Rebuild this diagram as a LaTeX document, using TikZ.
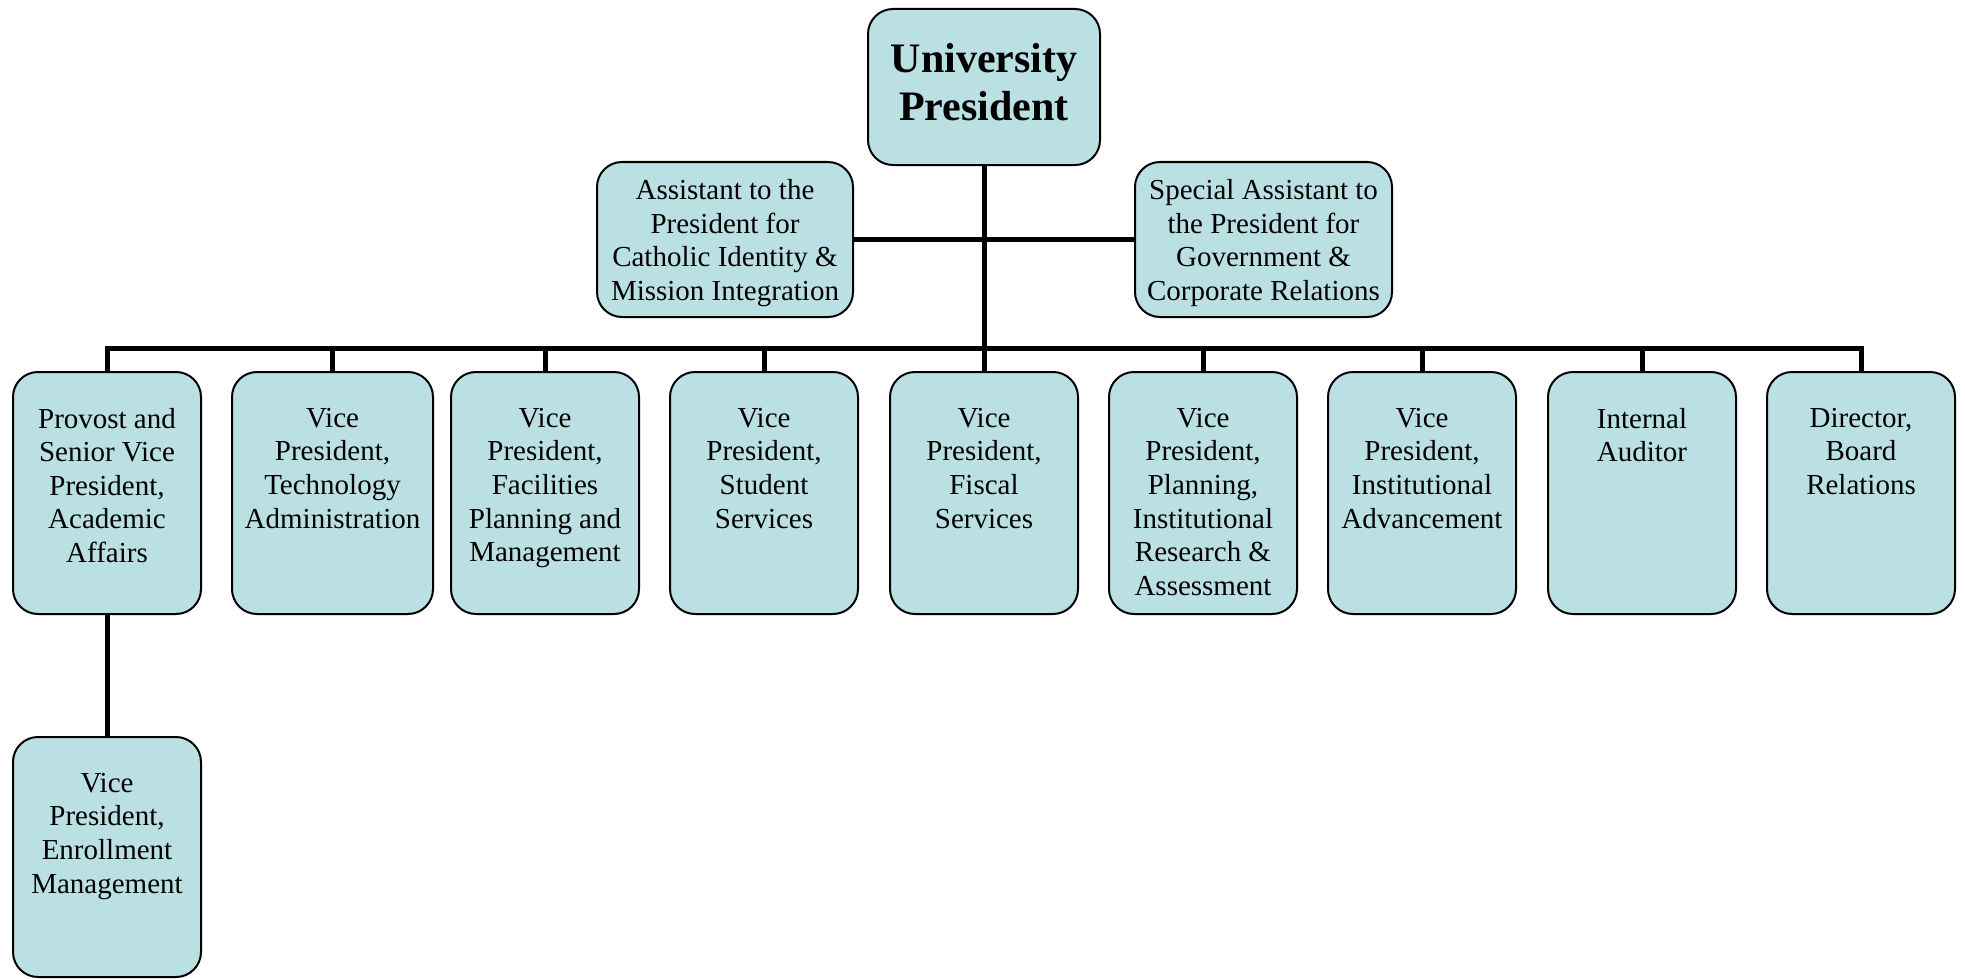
\documentclass[tikz,border=0pt]{standalone}
\usepackage{fontspec}
\setmainfont{Liberation Serif}
\definecolor{boxfill}{RGB}{187,224,227}
\newcommand{\toptext}[3]{\parbox[c][#2][t]{#1}{\centering\vspace*{18pt}#3}}
\newcommand{\midtext}[4]{\parbox[c][#2][c]{#1}{\centering\vspace*{#3}#4}}
\begin{document}
\begin{tikzpicture}[x=0.5pt,y=-0.5pt,
  box/.style={draw=black, line width=1pt, fill=boxfill, rounded corners=12.5pt, inner sep=0pt},
  txt/.style={font=\fontsize{14.5}{16.8}\selectfont},
  conn/.style={line width=2.5pt, line join=miter}]
\useasboundingbox (0,0) rectangle (1965,979);
% top level
\node[box, font=\fontsize{21}{23.8}\selectfont\bfseries] (pres) at (984,87)
  {\midtext{116pt}{78pt}{-5pt}{University\\President}};
\node[box, txt] (asl) at (725,239.5)
  {\midtext{128pt}{77.5pt}{3.5pt}{Assistant to the\\President for\\Catholic Identity \&\\Mission Integration}};
\node[box, txt] (asr) at (1263.5,239.5)
  {\midtext{128.5pt}{77.5pt}{3.5pt}{Special Assistant to\\the President for\\Government \&\\Corporate Relations}};
% second row
\begin{scope}[every node/.style={box, txt}]
\node (b1) at (107,493)   {\toptext{94pt}{121pt}{Provost and\\Senior Vice\\President,\\Academic\\Affairs}};
\node (b2) at (332.5,493) {\toptext{100.5pt}{121pt}{Vice\\President,\\Technology\\Administration}};
\node (b3) at (545,493)   {\toptext{94pt}{121pt}{Vice\\President,\\Facilities\\Planning and\\Management}};
\node (b4) at (764,493)   {\toptext{94pt}{121pt}{Vice\\President,\\Student\\Services}};
\node (b5) at (984,493)   {\toptext{94pt}{121pt}{Vice\\President,\\Fiscal\\Services}};
\node (b6) at (1203,493)  {\toptext{94pt}{121pt}{Vice\\President,\\Planning,\\Institutional\\Research \&\\Assessment}};
\node (b7) at (1422,493)  {\toptext{94pt}{121pt}{Vice\\President,\\Institutional\\Advancement}};
\node (b8) at (1642,493)  {\toptext{94pt}{121pt}{Internal\\Auditor}};
\node (b9) at (1861,493)  {\toptext{94pt}{121pt}{Director,\\Board\\Relations}};
\node (enr) at (107,857)  {\toptext{94pt}{120pt}{Vice\\President,\\Enrollment\\Management}};
\end{scope}
% connectors
\coordinate (bus) at (984,348);
\draw[conn] (pres.south) -- (bus);
\draw[conn] (asl.east) -- (asr.west);
\draw[conn] (b1.north) |- (bus) -| (b9.north);
\foreach \n in {b2,b3,b4,b5,b6,b7,b8}
  \draw[conn] (\n.north) -- (\n.north |- bus);
\draw[conn] (b1.south) -- (enr.north);
\end{tikzpicture}
\end{document}
